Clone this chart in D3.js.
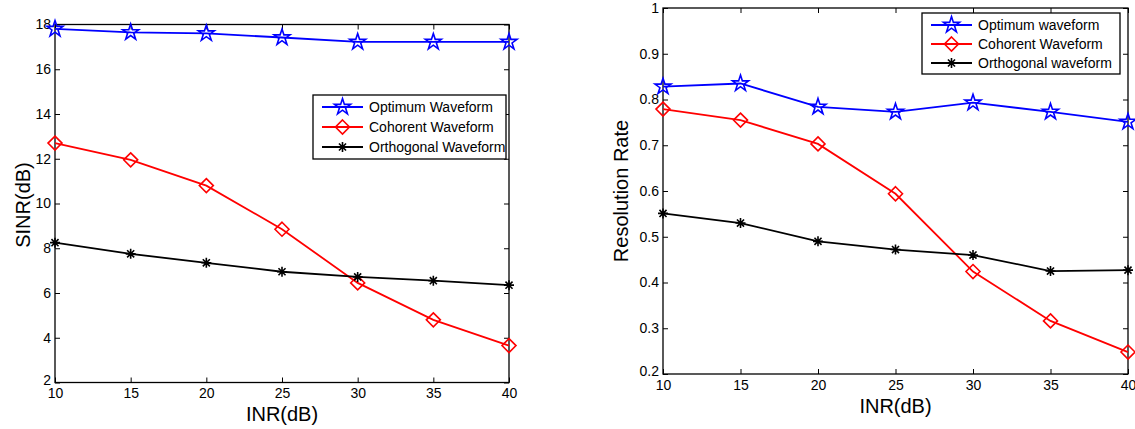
<!DOCTYPE html>
<html>
<head>
<meta charset="utf-8">
<script src="https://cdn.jsdelivr.net/npm/d3@7"></script>
<style>
  html, body { margin: 0; padding: 0; background: #fff; }
  svg { display: block; font-family: "Liberation Sans", Arial, sans-serif; }
</style>
</head>
<body>
<svg id="fig" width="1135" height="429"></svg>
<script>
// INR sweep (dB)
const inr = [10, 15, 20, 25, 30, 35, 40];
const xTicks = [10, 15, 20, 25, 30, 35, 40];

// Output SINR (dB) per waveform
const sinrOptimum    = [17.8, 17.65, 17.6, 17.42, 17.22, 17.22, 17.22];
const sinrCoherent   = [12.7, 11.95, 10.8, 8.85, 6.45, 4.8, 3.65];
const sinrOrthogonal = [8.25, 7.75, 7.35, 6.95, 6.72, 6.55, 6.35];
const sinrTicks = [2, 4, 6, 8, 10, 12, 14, 16, 18];

// Resolution rate per waveform
const resOptimum    = [0.828, 0.835, 0.784, 0.773, 0.793, 0.773, 0.751];
const resCoherent   = [0.779, 0.755, 0.703, 0.594, 0.424, 0.316, 0.248];
const resOrthogonal = [0.551, 0.530, 0.490, 0.472, 0.460, 0.425, 0.427];
const resTicks = [0.2, 0.3, 0.4, 0.5, 0.6, 0.7, 0.8, 0.9, 1];

const svg = d3.select("#fig");

const markerPath = {
  star: d3.symbol().type(d3.symbolStar).size(80)(),
  diamond: "M0,-7L7,0L0,7L-7,0Z",
  asterisk: (() => {
    const r = 5, d = r * Math.SQRT1_2;
    return `M${-r},0L${r},0M0,${-r}L0,${r}M${-d},${-d}L${d},${d}M${-d},${d}L${d},${-d}`;
  })()
};

function drawPanel(cfg) {
  const g = svg.append("g");
  const x = d3.scaleLinear().domain([10, 40]).range([cfg.x0, cfg.x1]);
  const y = d3.scaleLinear().domain(cfg.yDomain).range([cfg.y1, cfg.y0]);

  // inward ticks on all four sides
  g.append("g").attr("transform", `translate(0,${cfg.y1})`)
    .call(d3.axisBottom(x).tickValues(xTicks).tickSizeInner(-5).tickSizeOuter(0).tickPadding(6)
      .tickFormat(d3.format("d")));
  g.append("g").attr("transform", `translate(0,${cfg.y0})`)
    .call(d3.axisTop(x).tickValues(xTicks).tickSizeInner(-5).tickSizeOuter(0).tickFormat(""));
  g.append("g").attr("transform", `translate(${cfg.x0},0)`)
    .call(d3.axisLeft(y).tickValues(cfg.yTicks).tickSizeInner(-5).tickSizeOuter(0).tickPadding(4)
      .tickFormat(cfg.yFormat));
  g.append("g").attr("transform", `translate(${cfg.x1},0)`)
    .call(d3.axisRight(y).tickValues(cfg.yTicks).tickSizeInner(-5).tickSizeOuter(0).tickFormat(""));

  g.selectAll(".domain").remove();
  g.selectAll(".tick line").attr("stroke", "#000").attr("stroke-width", 1);
  g.selectAll(".tick text").attr("fill", "#000").attr("font-size", 14)
    .attr("font-family", "Liberation Sans, Arial, sans-serif");
  // lift the lowest y label slightly so it clears the first x label
  g.selectAll(".tick text").filter(d => d === cfg.yDomain[0]).attr("dy", "0.12em");

  // box
  g.append("rect")
    .attr("x", cfg.x0).attr("y", cfg.y0)
    .attr("width", cfg.x1 - cfg.x0).attr("height", cfg.y1 - cfg.y0)
    .attr("fill", "none").attr("stroke", "#000").attr("stroke-width", 1.3);

  const line = d3.line().x((d, i) => x(inr[i])).y(d => y(d));

  cfg.series.forEach(s => {
    g.append("path").datum(s.values)
      .attr("d", line).attr("fill", "none")
      .attr("stroke", s.color).attr("stroke-width", 1.8);
    g.selectAll(null).data(s.values).enter().append("path")
      .attr("transform", (d, i) => `translate(${x(inr[i])},${y(d)})`)
      .attr("d", markerPath[s.marker])
      .attr("fill", "none").attr("stroke", s.color).attr("stroke-width", 1.6);
  });

  // axis titles
  g.append("text")
    .attr("x", (cfg.x0 + cfg.x1) / 2).attr("y", cfg.xTitleY)
    .attr("text-anchor", "middle").attr("font-size", 20).attr("fill", "#000")
    .text("INR(dB)");
  g.append("text")
    .attr("transform", `translate(${cfg.yTitleX},${cfg.yTitleMid}) rotate(-90)`)
    .attr("text-anchor", "middle").attr("font-size", 20).attr("fill", "#000")
    .text(cfg.yTitle);

  // legend
  const L = cfg.legend;
  const lg = g.append("g").attr("transform", `translate(${L.x},${L.y})`);
  lg.append("rect").attr("width", L.w).attr("height", L.h)
    .attr("fill", "#fff").attr("stroke", "#000").attr("stroke-width", 1.3);
  cfg.series.forEach((s, i) => {
    const cy = L.rowY0 + i * L.rowStep;
    lg.append("line").attr("x1", 9).attr("x2", 50).attr("y1", cy).attr("y2", cy)
      .attr("stroke", s.color).attr("stroke-width", 1.8);
    lg.append("path").attr("transform", `translate(29.5,${cy})`)
      .attr("d", markerPath[s.marker])
      .attr("fill", "none").attr("stroke", s.color).attr("stroke-width", 1.6);
    lg.append("text").attr("x", 56).attr("y", cy).attr("dy", "0.36em")
      .attr("font-size", 14).attr("fill", "#000").text(s.name);
  });
}

drawPanel({
  x0: 55, x1: 509, y0: 24.5, y1: 382.5,
  yDomain: [2, 18], yTicks: sinrTicks, yFormat: d3.format("d"),
  yTitle: "SINR(dB)", yTitleX: 30, yTitleMid: 205, xTitleY: 421,
  series: [
    { name: "Optimum Waveform",    values: sinrOptimum,    color: "#0000ff", marker: "star" },
    { name: "Cohorent Waveform",   values: sinrCoherent,   color: "#ff0000", marker: "diamond" },
    { name: "Orthogonal Waveform", values: sinrOrthogonal, color: "#000000", marker: "asterisk" }
  ],
  legend: { x: 313, y: 95, w: 193, h: 64, rowY0: 12, rowStep: 20 }
});

drawPanel({
  x0: 663, x1: 1128, y0: 8, y1: 374,
  yDomain: [0.2, 1], yTicks: resTicks, yFormat: d => d === 1 ? "1" : d3.format(".1f")(d),
  yTitle: "Resolution Rate", yTitleX: 628, yTitleMid: 191, xTitleY: 413,
  series: [
    { name: "Optimum waveform",    values: resOptimum,    color: "#0000ff", marker: "star" },
    { name: "Cohorent Waveform",   values: resCoherent,   color: "#ff0000", marker: "diamond" },
    { name: "Orthogonal waveform", values: resOrthogonal, color: "#000000", marker: "asterisk" }
  ],
  legend: { x: 922, y: 13, w: 198, h: 61, rowY0: 12, rowStep: 19 }
});
</script>
</body>
</html>
